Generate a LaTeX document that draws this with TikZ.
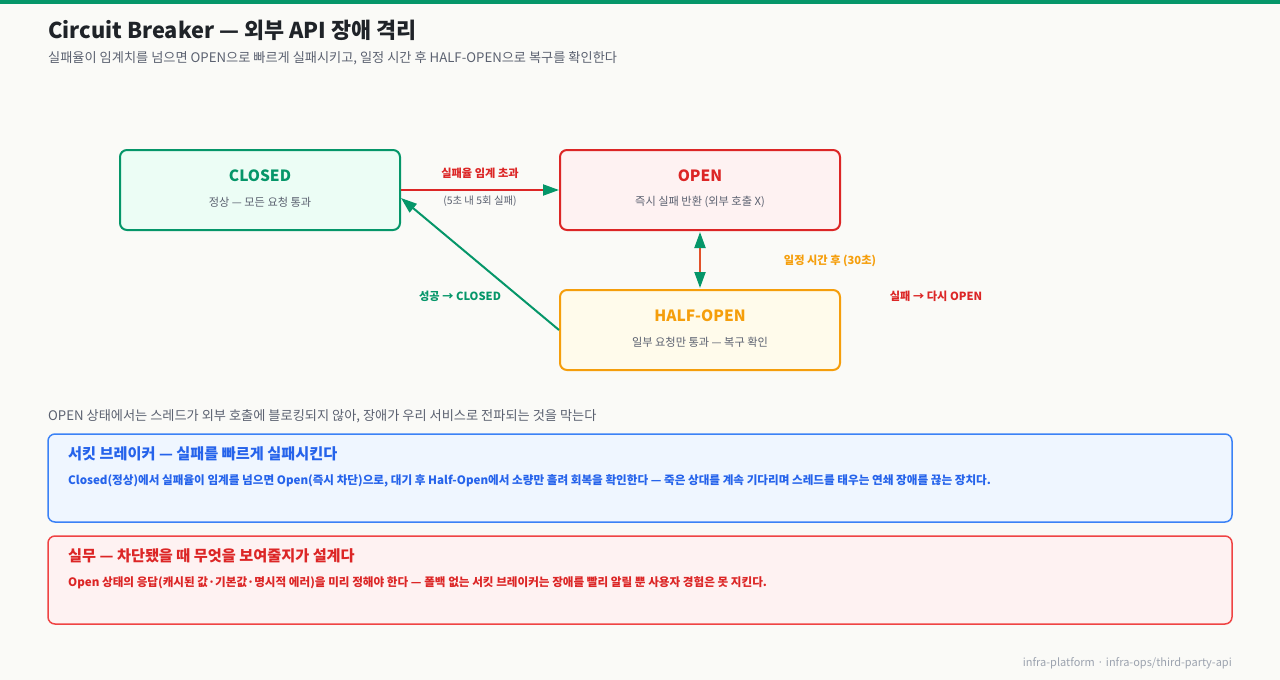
\documentclass[tikz,border=0pt]{standalone}
\usepackage{fontspec}
\setmainfont{Noto Sans CJK KR}
\usetikzlibrary{arrows.meta}
\definecolor{bg}{HTML}{FAFAF7}
\definecolor{topbar}{HTML}{059669}
\definecolor{gr}{HTML}{059669}
\definecolor{grfill}{HTML}{ECFDF5}
\definecolor{rd}{HTML}{DC2626}
\definecolor{rdfill}{HTML}{FEF2F2}
\definecolor{og}{HTML}{F59E0B}
\definecolor{ogfill}{HTML}{FFFBEB}
\definecolor{bl}{HTML}{3B82F6}
\definecolor{bltext}{HTML}{2563EB}
\definecolor{blfill}{HTML}{EFF6FF}
\definecolor{rdbox}{HTML}{EF4444}
\definecolor{ink}{HTML}{1F2328}
\definecolor{sub}{HTML}{5B6170}
\definecolor{foot}{HTML}{9CA3AF}
\definecolor{mix}{HTML}{E2512A}
\tikzset{
  gtip/.tip={Triangle[length=16pt,width=11pt,color=gr]},
  state/.style={draw=#1, line width=2pt, rounded corners=7pt, minimum width=280pt, minimum height=80pt},
  statetitle/.style={font=\fontsize{15.5}{19}\selectfont\bfseries, text=#1},
  statesub/.style={font=\fontsize{11.2}{13}\selectfont, text=sub},
  elabel/.style={font=\fontsize{11.2}{13}\selectfont\bfseries, text=#1},
  card/.style={draw=#1, line width=1.5pt, rounded corners=7pt, minimum width=1184pt, minimum height=88pt},
  cardtitle/.style={font=\fontsize{15.2}{18}\selectfont\bfseries, text=#1, anchor=base west},
  cardbody/.style={font=\fontsize{11.6}{13}\selectfont\bfseries, text=#1, anchor=base west},
}
\begin{document}
\begin{tikzpicture}[x=1pt,y=-1pt]
\useasboundingbox (0,0) rectangle (1280,680);
\fill[bg] (0,0) rectangle (1280,680);
\fill[topbar] (0,0) rectangle (1280,4);
\node[anchor=base west, font=\fontsize{21.8}{26}\selectfont\bfseries, text=ink, inner sep=0] (title) at (48,38) {Circuit Breaker — 외부 API 장애 격리};
\node[anchor=base west, font=\fontsize{13.2}{15}\selectfont, text=sub, inner sep=0] (subtitle) at (48,62) {실패율이 임계치를 넘으면 OPEN으로 빠르게 실패시키고, 일정 시간 후 HALF-OPEN으로 복구를 확인한다};

% states
\node[state=gr, fill=grfill] (closed) at (260,190) {};
\node[statetitle=gr] (closedT) at (260,176) {CLOSED};
\node[statesub] (closedS) at (260,202) {정상 — 모든 요청 통과};

\node[state=rd, fill=rdfill] (open) at (700,190) {};
\node[statetitle=rd] (openT) at (700,176) {OPEN};
\node[statesub] (openS) at (700,202) {즉시 실패 반환 (외부 호출 X)};

\node[state=og, fill=ogfill] (half) at (700,330) {};
\node[statetitle=og] (halfT) at (700,316) {HALF-OPEN};
\node[statesub] (halfS) at (700,342) {일부 요청만 통과 — 복구 확인};

% edges
\draw[line width=2pt, draw=rd, -gtip] (closed.east) -- (open.west);
\node[elabel=rd] (l1) at (480,173) {실패율 임계 초과};
\node[font=\fontsize{10.4}{12}\selectfont, text=sub] (l1b) at (480,201) {(5초 내 5회 실패)};

\coordinate (hw) at (half.west);
\coordinate (cin) at ([yshift=-8pt]closed.east);
\draw[line width=2pt, draw=gr, -gtip] (hw) -- (cin);
\node[elabel=gr] (l2) at (460,296) {성공 → CLOSED};

\draw[line width=2pt, draw=mix, gtip-gtip] ([yshift=-1pt]open.south) -- ([yshift=1pt]half.north);
\node[elabel=og] (l3) at (830,261) {일정 시간 후 (30초)};
\node[elabel=rd] (l4) at (936,296) {실패 → 다시 OPEN};

\node[anchor=base west, font=\fontsize{13.2}{15}\selectfont, text=sub, inner sep=0] (note) at (48,420) {OPEN 상태에서는 스레드가 외부 호출에 블로킹되지 않아, 장애가 우리 서비스로 전파되는 것을 막는다};

% cards
\node[card=bl, fill=blfill] (card1) at (640,478) {};
\node[cardtitle=bltext, inner sep=0] (c1t) at (68,459) {서킷 브레이커 — 실패를 빠르게 실패시킨다};
\node[cardbody=bltext, inner sep=0] (c1b) at (68,484) {Closed(정상)에서 실패율이 임계를 넘으면 Open(즉시 차단)으로, 대기 후 Half-Open에서 소량만 흘려 회복을 확인한다 — 죽은 상대를 계속 기다리며 스레드를 태우는 연쇄 장애를 끊는 장치다.};

\node[card=rdbox, fill=rdfill] (card2) at (640,580) {};
\node[cardtitle=rd, inner sep=0] (c2t) at (68,561) {실무 — 차단됐을 때 무엇을 보여줄지가 설계다};
\node[cardbody=rd, inner sep=0] (c2b) at (68,586) {Open 상태의 응답(캐시된 값·기본값·명시적 에러)을 미리 정해야 한다 — 폴백 없는 서킷 브레이커는 장애를 빨리 알릴 뿐 사용자 경험은 못 지킨다.};

\node[anchor=base east, font=\fontsize{11}{13}\selectfont, text=foot, inner sep=0] (footer) at (1232,666) {infra-platform · infra-ops/third-party-api};
\end{tikzpicture}
\end{document}
